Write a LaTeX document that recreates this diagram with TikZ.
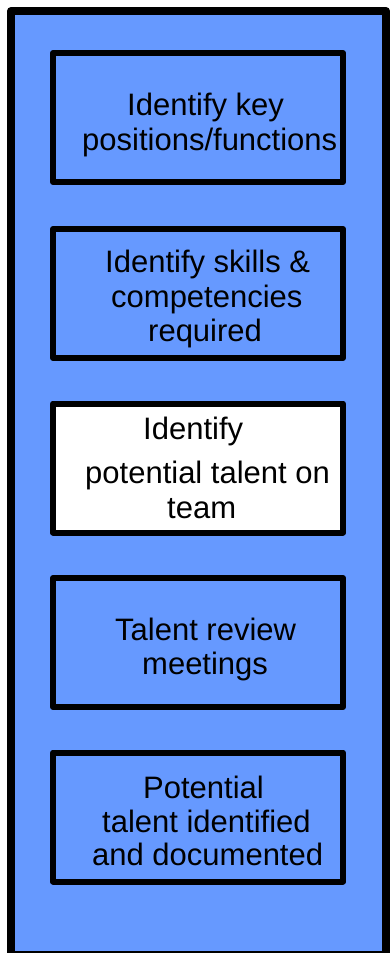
\documentclass[tikz,border=0pt]{standalone}
\usepackage{fontspec}
\setmainfont{Liberation Sans}
\definecolor{panelblue}{HTML}{6699FF}
\begin{document}
\begin{tikzpicture}[x=1pt,y=-1pt,
  panel/.style={draw=black,line width=8pt,fill=panelblue,line join=round},
  stepbox/.style={draw=black,line width=6pt,fill=panelblue,line join=round,
    minimum width=290pt,minimum height=129pt,inner sep=0pt},
  whitebox/.style={stepbox,fill=white},
  lbl/.style={anchor=base west,inner sep=0pt,font=\fontsize{31}{35}\selectfont}]
\useasboundingbox (0,0) rectangle (389,953);
\fill[white] (0,0) rectangle (389,953);
\draw[panel] (11,11) rectangle (386,955);
\node[stepbox]  (b1) at (198,117.5) {};
\node[stepbox]  (b2) at (198,293.5) {};
\node[whitebox] (b3) at (198,468) {};
\node[stepbox]  (b4) at (198,642.5) {};
\node[stepbox]  (b5) at (198,817) {};
\node[lbl] (t11) at (127,115) {Identify key};
\node[lbl] (t12) at (82,150) {positions/functions};
\node[lbl] (t21) at (105,272) {Identify skills \&};
\node[lbl] (t22) at (111,307) {competencies};
\node[lbl] (t23) at (148,341) {required};
\node[lbl] (t31) at (143,439) {Identify};
\node[lbl] (t32) at (85,483) {potential talent on};
\node[lbl] (t33) at (167,518) {team};
\node[lbl] (t41) at (115,640) {Talent review};
\node[lbl] (t42) at (142,674) {meetings};
\node[lbl] (t51) at (143,798) {Potential};
\node[lbl] (t52) at (102,832) {talent identified};
\node[lbl] (t53) at (92,865) {and documented};
\end{tikzpicture}
\end{document}
